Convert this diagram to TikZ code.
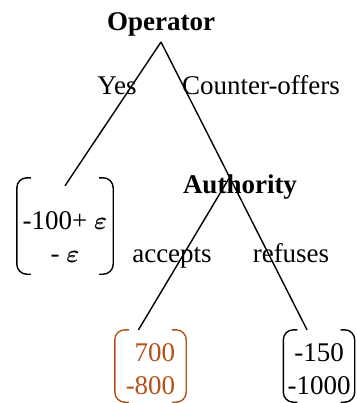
\documentclass[tikz,border=0pt]{standalone}
\usepackage{amsmath}
\usepackage{fontspec}
\setmainfont{Liberation Serif}
\usetikzlibrary{calc}
\definecolor{payorange}{RGB}{180,80,25}
\newcommand{\eps}{$\boldsymbol{\varepsilon}$}
\tikzset{
  payoff/.style={minimum width=71pt, minimum height=72pt, inner sep=0pt, text height=27pt, text depth=3pt},
  paren/.style={line width=1.4pt, rounded corners=10pt},
  branch/.style={line width=1.4pt},
  player/.style={font=\bfseries},
}
\begin{document}
\fontsize{27}{33}\selectfont
\begin{tikzpicture}[x=1pt, y=-1pt]
        \useasboundingbox (0,0) rectangle (356,403);
        % Nodes
        \node (operator) at (161,42) [player, anchor=south, inner sep=6pt] {Operator};
        \node (yes) at (117,95) [anchor=base] {Yes};
        \node (counter) at (261,95) [anchor=base] {Counter-offers};
        \node (authority) at (240,193) [player, anchor=base] {Authority};
        \node (accepts) at (172,262) [anchor=base] {accepts};
        \node (refuses) at (291,262) [anchor=base] {refuses};
        \node (p1) at (65,226) [payoff, minimum width=96pt, minimum height=96pt, text height=42pt] {\begin{tabular}{@{}c@{}}-100+ \eps\\- \eps\end{tabular}};
        \node (p2) at (150.5,366) [payoff, text=payorange] {\begin{tabular}{@{}r@{}}700\\-800\end{tabular}};
        \node (p3) at (319,366) [payoff] {\begin{tabular}{@{}c@{}}-150\\-1000\end{tabular}};

        % Brackets
        \draw[paren] ([xshift=14pt]p1.north west) -- (p1.north west) -- (p1.south west) -- ([xshift=14pt]p1.south west);
        \draw[paren] ([xshift=-14pt]p1.north east) -- (p1.north east) -- (p1.south east) -- ([xshift=-14pt]p1.south east);
        \draw[paren, payorange] ([xshift=14pt]p2.north west) -- (p2.north west) -- (p2.south west) -- ([xshift=14pt]p2.south west);
        \draw[paren, payorange] ([xshift=-14pt]p2.north east) -- (p2.north east) -- (p2.south east) -- ([xshift=-14pt]p2.south east);
        \draw[paren] ([xshift=14pt]p3.north west) -- (p3.north west) -- (p3.south west) -- ([xshift=14pt]p3.south west);
        \draw[paren] ([xshift=-14pt]p3.north east) -- (p3.north east) -- (p3.south east) -- ([xshift=-14pt]p3.south east);

        % Edges
        \coordinate (fork) at ($(operator.south)!0.47!([xshift=-12pt]p3.north)$);
        \draw[branch] (operator.south) -- ([yshift=-8pt]p1.north);
        \draw[branch] (operator.south) -- ([xshift=-12pt]p3.north);
        \draw[branch] (fork) -- ([xshift=-12pt]p2.north);
    \end{tikzpicture}
\end{document}
